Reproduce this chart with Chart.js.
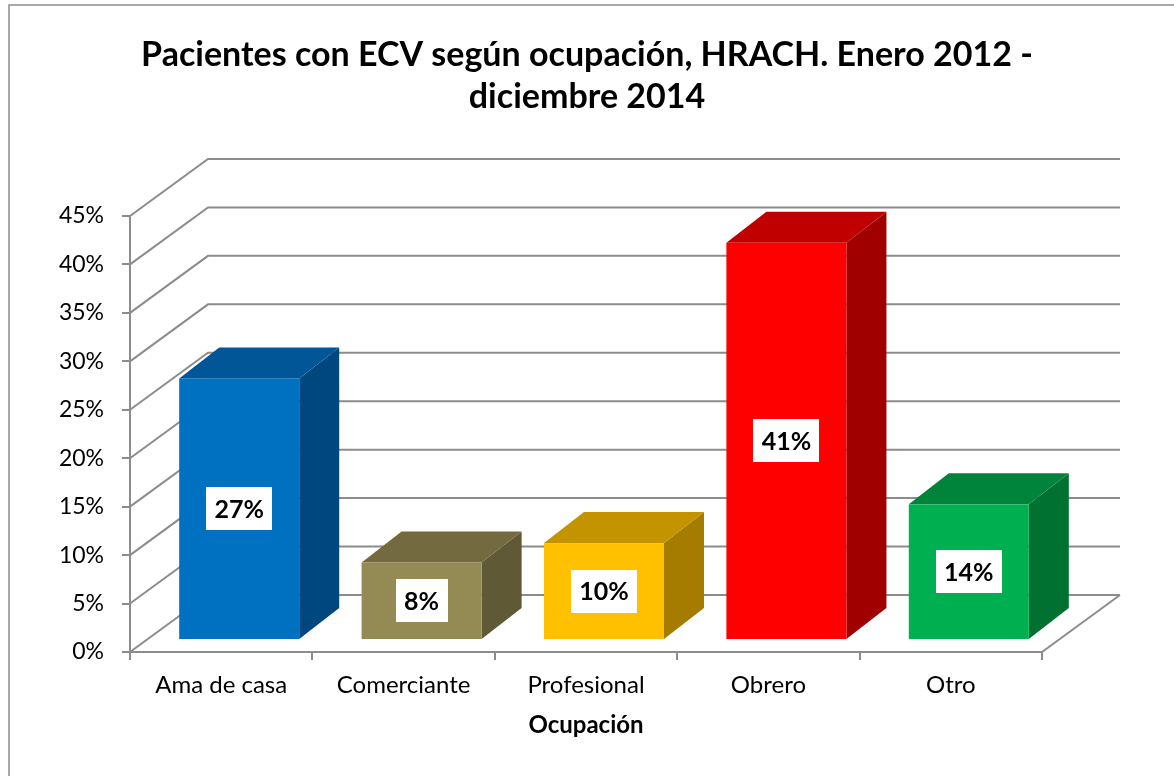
<!DOCTYPE html>
<html>
<head>
<meta charset="utf-8">
<script src="https://cdn.jsdelivr.net/npm/chart.js@4/dist/chart.umd.min.js"></script>
<style>
  html, body { margin: 0; padding: 0; background: #ffffff; }
  #wrap { width: 1174px; height: 776px; position: relative; }
</style>
</head>
<body>
<div id="wrap"><canvas id="c" width="1174" height="776"></canvas></div>
<script>
// ---- data ----
const categories = ["Ama de casa", "Comerciante", "Profesional", "Obrero", "Otro"];
const percentValues = [27, 8, 10, 41, 14];
const valueLabels = ["27%", "8%", "10%", "41%", "14%"];
const yTickMax = 45;
const yTickStep = 5;
const titleLines = ["Pacientes con ECV según ocupación, HRACH. Enero 2012 -", "diciembre 2014"];
const xAxisTitle = "Ocupación";

// ---- styles ----
const frontColors = ["#0070C0", "#948A54", "#FFC000", "#FF0000", "#00B050"];
const topColors   = ["#005697", "#736A40", "#C49300", "#C00000", "#00843C"];
const sideColors  = ["#00477F", "#5F5935", "#A57C00", "#A00000", "#007131"];
const FONT = "Lato, 'Open Sans', 'DejaVu Sans', sans-serif";
const GRID = "#8c8c8c";
const WALL_DX = 78, WALL_DY = -57;   // depth of the 3D walls
const BAR_OX = 18, BAR_OY = -12;     // bar front-face offset into depth
const BAR_DX = 40, BAR_DY = -31;     // bar depth

const threeD = {
  id: "threeD",
  beforeDatasetsDraw(chart) {
    const ctx = chart.ctx;
    const ys = chart.scales.y, xs = chart.scales.x;
    const L = xs.left, R = xs.right, B = ys.bottom;
    ctx.save();
    ctx.strokeStyle = GRID;
    ctx.lineWidth = 2;
    for (let v = 0; v <= yTickMax; v += yTickStep) {
      const y = ys.getPixelForValue(v);
      ctx.beginPath();
      ctx.moveTo(L, y);
      ctx.lineTo(L + WALL_DX, y + WALL_DY);
      ctx.lineTo(R + WALL_DX, y + WALL_DY);
      ctx.stroke();
    }
    ctx.beginPath();
    ctx.moveTo(R, B);
    ctx.lineTo(R + WALL_DX, B + WALL_DY);
    ctx.stroke();
    ctx.restore();
  },
  afterDatasetsDraw(chart) {
    const ctx = chart.ctx;
    const meta = chart.getDatasetMeta(0);
    ctx.save();
    meta.data.forEach((el, i) => {
      const p = el.getProps(["x", "y", "base", "width"], true);
      const x0 = p.x - p.width / 2 + BAR_OX, x1 = x0 + p.width;
      const yt = p.y + BAR_OY, yb = p.base + BAR_OY;
      ctx.fillStyle = sideColors[i];
      ctx.beginPath();
      ctx.moveTo(x1, yt); ctx.lineTo(x1 + BAR_DX, yt + BAR_DY);
      ctx.lineTo(x1 + BAR_DX, yb + BAR_DY); ctx.lineTo(x1, yb); ctx.closePath();
      ctx.fill();
      ctx.fillStyle = topColors[i];
      ctx.beginPath();
      ctx.moveTo(x0, yt); ctx.lineTo(x0 + BAR_DX, yt + BAR_DY);
      ctx.lineTo(x1 + BAR_DX, yt + BAR_DY); ctx.lineTo(x1, yt); ctx.closePath();
      ctx.fill();
      ctx.fillStyle = frontColors[i];
      ctx.fillRect(x0, yt, x1 - x0, yb - yt);
      const cx = (x0 + x1) / 2, cy = (yt + yb) / 2;
      ctx.font = "bold 25px " + FONT;
      const tw = ctx.measureText(valueLabels[i]).width;
      const bw = tw + 17, bh = 43;
      ctx.fillStyle = "#ffffff";
      ctx.fillRect(Math.round(cx - bw / 2), Math.round(cy - bh / 2), Math.round(bw), bh);
      ctx.fillStyle = "#000000";
      ctx.textAlign = "center";
      ctx.textBaseline = "middle";
      ctx.fillText(valueLabels[i], cx, cy + 1);
    });
    ctx.restore();
  },
  afterDraw(chart) {
    const ctx = chart.ctx;
    ctx.save();
    ctx.strokeStyle = "#8c8c8c";
    ctx.lineWidth = 1.5;
    ctx.strokeRect(9, 5, 1200, 800);
    ctx.restore();
  }
};

new Chart(document.getElementById("c"), {
  type: "bar",
  data: {
    labels: categories,
    datasets: [{
      data: percentValues,
      backgroundColor: "rgba(0,0,0,0)",
      borderWidth: 0,
      categoryPercentage: 1,
      barPercentage: 0.658
    }]
  },
  options: {
    responsive: false,
    animation: false,
    events: [],
    layout: { padding: 0 },
    plugins: {
      legend: { display: false },
      tooltip: { enabled: false },
      title: {
        display: true,
        text: titleLines,
        color: "#000000",
        font: { family: FONT, size: 34, weight: "bold", lineHeight: 1.235 },
        padding: { top: 34, bottom: 98 }
      }
    },
    scales: {
      y: {
        min: 0, max: yTickMax,
        afterFit(scale) { scale.width = 130; },
        ticks: {
          stepSize: yTickStep,
          padding: 18,
          color: "#000000",
          font: { family: FONT, size: 23 },
          callback: (v) => v + "%"
        },
        grid: { drawOnChartArea: false, tickLength: 8, color: GRID, lineWidth: 2 },
        border: { display: true, color: GRID, width: 2 }
      },
      yRight: {
        position: "right",
        display: true,
        afterFit(scale) { scale.width = 132; },
        ticks: { display: false },
        grid: { display: false },
        border: { display: false }
      },
      x: {
        afterFit(scale) { scale.height = 124; },
        ticks: {
          padding: 11,
          color: "#000000",
          font: { family: FONT, size: 24 }
        },
        grid: { offset: true, drawOnChartArea: false, tickLength: 8, color: GRID, lineWidth: 2 },
        border: { display: true, color: GRID, width: 2 },
        title: {
          display: true,
          text: xAxisTitle,
          color: "#000000",
          font: { family: FONT, size: 24, weight: "bold" },
          padding: { top: 8, bottom: 36 }
        }
      }
    }
  },
  plugins: [threeD]
});
</script>
</body>
</html>
